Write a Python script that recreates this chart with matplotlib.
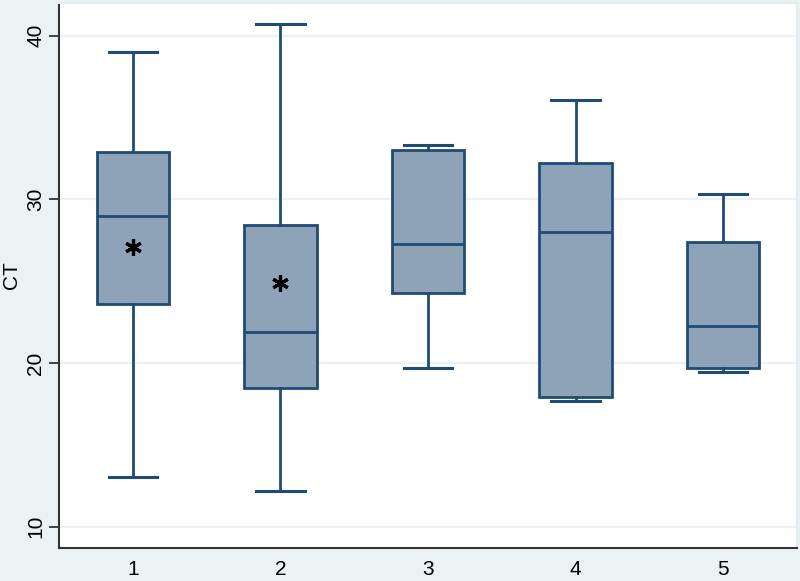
import matplotlib
matplotlib.use("Agg")
import matplotlib.pyplot as plt

# values
groups = ["1", "2", "3", "4", "5"]
whislo = [13.05, 12.2, 19.7, 17.7, 19.43]
q1 = [23.6, 18.5, 24.3, 17.93, 19.72]
med = [29.0, 21.9, 27.3, 28.0, 22.25]
q3 = [32.9, 28.45, 33.0, 32.22, 27.4]
whishi = [39.0, 40.7, 33.3, 36.1, 30.3]
means = [27.1, 24.9, None, None, None]

edge = "#1f4b74"
fill = "#8fa3b8"
bg = "#eaf2f3"

plt.rcParams["font.family"] = ["Liberation Sans", "DejaVu Sans"]

fig = plt.figure(figsize=(8, 5.81), dpi=100, facecolor=bg)
ax = fig.add_axes([0.074, 0.0568, 0.922, 0.938])
ax.set_facecolor("white")

stats = []
for i in range(len(groups)):
    stats.append(dict(label=groups[i], whislo=whislo[i], q1=q1[i], med=med[i],
                      q3=q3[i], whishi=whishi[i], fliers=[]))

pos = list(range(1, len(groups) + 1))
ax.bxp(stats, positions=pos, widths=0.49, capwidths=0.33, patch_artist=True,
       showfliers=False,
       boxprops=dict(facecolor=fill, edgecolor=edge, linewidth=2),
       medianprops=dict(color=edge, linewidth=2),
       whiskerprops=dict(color=edge, linewidth=2),
       capprops=dict(color=edge, linewidth=2.2), zorder=3)

for p, m in zip(pos, means):
    if m is not None:
        ax.plot(p, m, marker=(6, 2, 0), color="black", markersize=12,
                markeredgewidth=2.3, zorder=5)

ax.set_xlim(0.5, 5.5)
ax.set_ylim(8.7, 42.0)
ax.set_yticks([10, 20, 30, 40])
ax.set_yticklabels(["10", "20", "30", "40"], rotation=90, va="center")
ax.yaxis.grid(True, color=bg, linewidth=1.6, zorder=0)
ax.set_axisbelow(True)
ax.set_ylabel("CT", fontsize=15)
ax.yaxis.set_label_coords(-0.052, 0.5)

ax.tick_params(axis="y", length=7, width=1.3, color="#333333", labelsize=15, pad=3)
ax.tick_params(axis="x", length=0, labelsize=15, pad=9)

for s in ["top", "right"]:
    ax.spines[s].set_color("#e3ecee")
    ax.spines[s].set_linewidth(1.5)
for s in ["left", "bottom"]:
    ax.spines[s].set_color("#333333")
    ax.spines[s].set_linewidth(1.5)

fig.savefig("out.png", dpi=100, facecolor=bg)
